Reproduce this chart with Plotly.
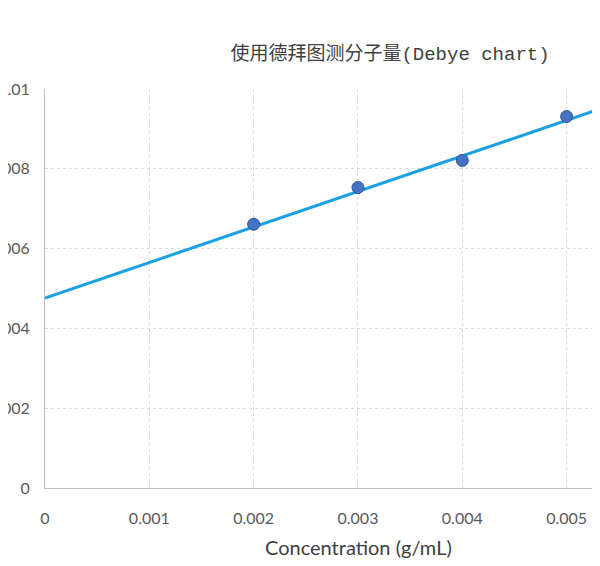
import plotly.graph_objects as go

# measured points
concentration = [0.002, 0.003, 0.004, 0.005]
kc_over_r = [0.00661, 0.00753, 0.00821, 0.00931]

trend_x = [0.0, 0.0055]
trend_y = [0.00476, 0.00966]

x_ticks = [0, 0.001, 0.002, 0.003, 0.004, 0.005]
x_tick_text = ["0", "0.001", "0.002", "0.003", "0.004", "0.005"]
y_ticks = [0, 0.002, 0.004, 0.006, 0.008, 0.01]
y_tick_text = ["0", "0.002", "0.004", "0.006", "0.008", "0.01"]

title_text = "使用德拜图测分子量(Debye chart)"
x_title = "Concentration (g/mL)"

fig = go.Figure()
fig.add_trace(go.Scatter(x=trend_x, y=trend_y, mode="lines",
                         line=dict(color="#1BA1E2", width=3),
                         showlegend=False, hoverinfo="skip"))
fig.add_trace(go.Scatter(x=concentration, y=kc_over_r, mode="markers",
                         marker=dict(size=12, color="#4472C4",
                                     line=dict(color="#2F5597", width=1)),
                         showlegend=False))

axis_font = dict(family="Lato, Liberation Sans, sans-serif", size=16, color="#595959")

# the page body adds an 8px offset, size and margins make up for it
fig.update_layout(
    width=592,
    height=558,
    margin=dict(l=37, r=0, t=81, b=78),
    plot_bgcolor="white",
    paper_bgcolor="white",
    title=dict(text=title_text, x=382 / 592, xref="container", xanchor="center",
               y=1 - 45 / 558, yref="container", yanchor="middle",
               font=dict(family="Liberation Mono, Noto Sans CJK SC, monospace",
                         size=19, color="#404040")),
    annotations=[dict(text=x_title, xref="paper", yref="paper",
                      x=0.564, y=-0.148, xanchor="center", yanchor="middle",
                      showarrow=False,
                      font=dict(family="Lato, Liberation Sans, sans-serif",
                                size=20, color="#404040"))],
)

fig.update_xaxes(range=[0, 0.00532], tickvals=x_ticks, ticktext=x_tick_text,
                 showgrid=True, gridcolor="#D9D9D9", griddash="dot", gridwidth=1,
                 showline=True, linecolor="#BFBFBF", linewidth=1,
                 zeroline=False, ticks="", ticklabelstandoff=16,
                 tickfont=axis_font, automargin=False)
fig.update_yaxes(range=[0, 0.01], tickvals=y_ticks, ticktext=y_tick_text,
                 showgrid=True, gridcolor="#D9D9D9", griddash="dot", gridwidth=1,
                 showline=True, linecolor="#BFBFBF", linewidth=1,
                 zeroline=False, ticks="", ticklabelstandoff=11,
                 tickfont=axis_font, automargin=False)

fig.write_html("out.html")
